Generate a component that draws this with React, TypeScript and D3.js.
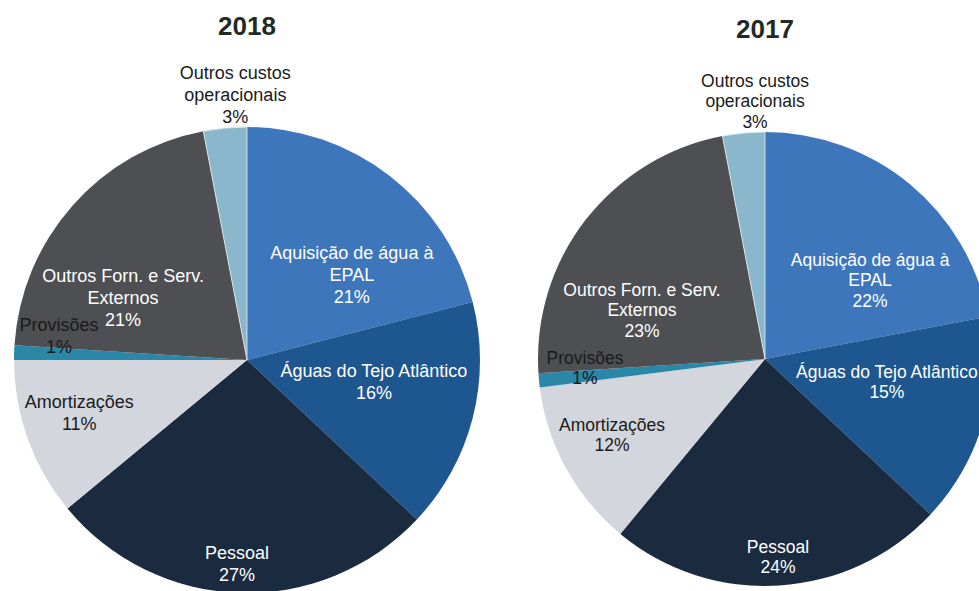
import * as d3 from 'd3';
import React from 'react';

const categories = [
  ['Aquisição de água à', 'EPAL'],
  ['Águas do Tejo Atlântico'],
  ['Pessoal'],
  ['Amortizações'],
  ['Provisões'],
  ['Outros Forn. e Serv.', 'Externos'],
  ['Outros custos', 'operacionais'],
];

const values2018 = [21, 16, 27, 11, 1, 21, 3];
const values2017 = [22, 15, 24, 12, 1, 23, 3];

const colors = ['#3e76bb', '#1e568f', '#1b2b3f', '#d4d6dd', '#2a87a8', '#4e4f52', '#8bb7cd'];
const labelColors = ['#fff', '#fff', '#fff', '#1a1a1a', '#1a1a1a', '#fff', '#1a1a1a'];

// label placement (fraction of radius from pie centre), Excel "best fit" style
const layout2018 = [[0.45, -0.365], [0.545, 0.095], [-0.043, 0.875], [-0.72, 0.225], [-0.807, -0.103], [-0.532, -0.266], [-0.05, -1.137]];
const layout2017 = [[0.463, -0.348], [0.537, 0.101], [0.057, 0.872], [-0.674, 0.335], [-0.793, 0.04], [-0.542, -0.216], [-0.044, -1.137]];

type PieProps = {
  title: string;
  values: number[];
  layout: number[][];
  cx: number;
  cy: number;
  r: number;
  titleY: number;
  fontSize: number;
  lineH: number;
};

function Pie({ title, values, layout, cx, cy, r, titleY, fontSize, lineH }: PieProps) {
  const pie = d3.pie<number>().sort(null).value(d => d);
  const arc = d3.arc<d3.PieArcDatum<number>>().innerRadius(0).outerRadius(r);
  const arcs = pie(values);

  return (
    <g>
      <text x={cx} y={titleY} textAnchor="middle" fontSize={26} fontWeight="bold" fill="#1f2a26">
        {title}
      </text>
      <g transform={`translate(${cx},${cy})`}>
        {arcs.map((a, i) => (
          <path key={i} d={arc(a) || ''} fill={colors[i]} stroke={i === 6 ? '#e8f0f4' : 'none'} strokeWidth={0.8} />
        ))}
        {arcs.map((a, i) => {
          const lines = [...categories[i], `${values[i]}%`];
          const x = layout[i][0] * r;
          const y = layout[i][1] * r;
          const y0 = y - ((lines.length - 1) * lineH) / 2;
          return (
            <text key={'t' + i} textAnchor="middle" fontSize={fontSize} fill={labelColors[i]}>
              {lines.map((l, j) => (
                <tspan key={j} x={x} y={y0 + j * lineH} dy="0.35em">
                  {l}
                </tspan>
              ))}
            </text>
          );
        })}
      </g>
    </g>
  );
}

export default function App() {
  return (
    <svg
      width={979}
      height={591}
      style={{ position: 'absolute', left: 0, top: 0, background: '#fff' }}
      fontFamily="'Liberation Sans', Arial, sans-serif"
    >
      <rect width={979} height={591} fill="#fff" />
      <Pie title="2018" values={values2018} layout={layout2018} cx={247} cy={360} r={233} titleY={35} fontSize={18} lineH={22} />
      <Pie title="2017" values={values2017} layout={layout2017} cx={765} cy={359} r={227} titleY={38} fontSize={17.5} lineH={20.5} />
    </svg>
  );
}
